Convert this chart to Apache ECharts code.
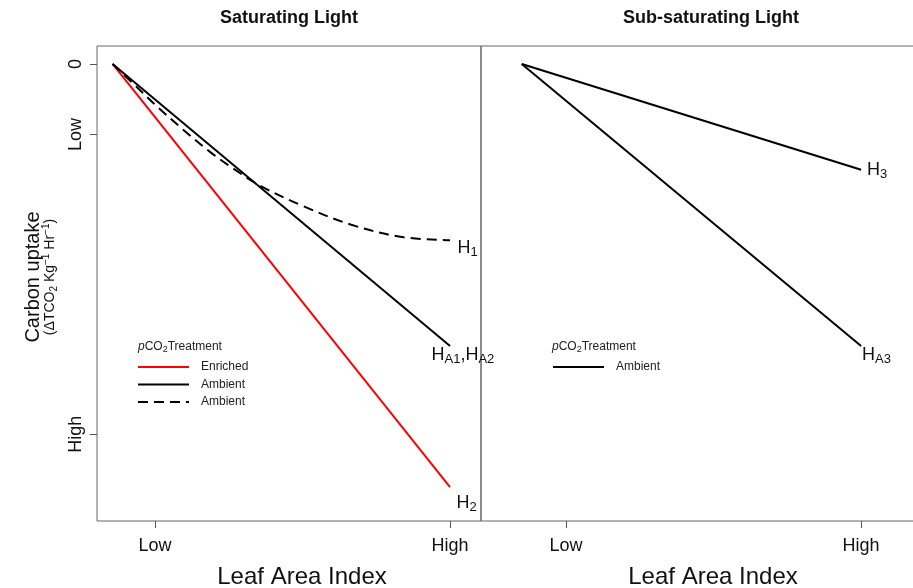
<!DOCTYPE html>
<html>
<head>
<meta charset="utf-8">
<script src="https://cdn.jsdelivr.net/npm/echarts@6/dist/echarts.min.js"></script>
<style>
  html, body { margin: 0; padding: 0; background: #fff; }
  #chart { width: 913px; height: 588px; }
</style>
</head>
<body>
<div id="chart"></div>
<script>
// Leaf area index scale (Low = 1, High = 9)
const laiTicks = [1, 9];
const laiTickLabels = ['Low', 'High'];
// Carbon uptake scale (further below zero = more uptake)
const uptakeTicks = [0, -2, -10.5];
const uptakeTickLabels = ['0', 'Low', 'High'];

// Saturating light
const enrichedX = [-0.15, 9];
const enrichedY = [0, -12];
const ambientX = [-0.15, 9];
const ambientY = [0, -8];
const ambientCurveX = [-0.15, 0.6, 1.05, 1.75, 2.5, 3.1, 3.85, 4.95, 6.3, 7.65, 9];
const ambientCurveY = [0, -0.75, -1.2, -1.85, -2.5, -2.95, -3.45, -4.0, -4.55, -4.9, -5];

// Sub-saturating light
const subH3X = [-0.2, 9];
const subH3Y = [0, -3];
const subHA3X = [-0.2, 9];
const subHA3Y = [0, -8];

const FONT = '"Liberation Sans", Arial, Helvetica, sans-serif';
const INK = '#111';
const zip = (xs, ys) => xs.map((x, i) => [x, ys[i]]);
const legendName = n => n.replace(/ \(.*\)$/, '');

const tickLine = { color: '#555', width: 1 };

function xAxisFor(gridIndex, min, max) {
  return {
    type: 'value', gridIndex, min, max, position: 'bottom',
    axisLine: { show: false, onZero: false },
    splitLine: { show: false },
    axisTick: { show: true, inside: false, length: 7, customValues: laiTicks, lineStyle: tickLine },
    axisLabel: {
      customValues: laiTicks,
      formatter: v => laiTickLabels[laiTicks.indexOf(v)],
      margin: 16, fontSize: 18, color: INK, fontFamily: FONT
    }
  };
}

function lineSeries(name, xi, xs, ys, style) {
  return {
    name, type: 'line', xAxisIndex: xi, yAxisIndex: xi,
    data: zip(xs, ys), symbol: 'none', smooth: style.smooth || false,
    lineStyle: { color: style.color, width: 2, type: style.type || 'solid' },
    itemStyle: { color: style.color },
    z: style.z || 2
  };
}

const chart = echarts.init(document.getElementById('chart'), null, { renderer: 'canvas' });

const legendCommon = {
  orient: 'vertical', padding: 0, itemWidth: 51, itemHeight: 12, itemGap: 5.5,
  selectedMode: false, formatter: legendName,
  itemStyle: { opacity: 0, borderWidth: 0 },
  textStyle: { fontSize: 12, color: '#222', fontFamily: FONT, padding: [0, 0, 0, 7] }
};

const option = {
  animation: false,
  backgroundColor: '#fff',
  grid: [
    { left: 97, top: 46, width: 384, height: 475, show: true, borderColor: '#666', borderWidth: 1, outerBoundsMode: 'none', containLabel: false },
    { left: 481, top: 46, width: 462, height: 475, show: true, borderColor: '#666', borderWidth: 1, outerBoundsMode: 'none', containLabel: false }
  ],
  xAxis: [xAxisFor(0, -0.573, 9.84), xAxisFor(1, -1.305, 11.22)],
  yAxis: [
    {
      type: 'value', gridIndex: 0, min: -12.96, max: 0.51, position: 'left',
      axisLine: { show: false, onZero: false },
      splitLine: { show: false },
      axisTick: { show: true, inside: false, length: 7, customValues: uptakeTicks, lineStyle: tickLine },
      axisLabel: {
        customValues: uptakeTicks,
        formatter: v => uptakeTickLabels[uptakeTicks.indexOf(v)],
        rotate: 90, margin: 12, fontSize: 18, color: INK, fontFamily: FONT
      }
    },
    { type: 'value', gridIndex: 1, min: -12.96, max: 0.51, show: false, axisLine: { onZero: false }, splitLine: { show: false } }
  ],
  legend: [
    Object.assign({ left: 137, top: 361, data: ['Enriched', 'Ambient', 'Ambient (H1)'] }, legendCommon),
    Object.assign({ left: 552, top: 361, data: ['Ambient (H3)'] }, legendCommon)
  ],
  series: [
    lineSeries('Enriched', 0, enrichedX, enrichedY, { color: '#ff0000' }),
    lineSeries('Ambient', 0, ambientX, ambientY, { color: '#000' }),
    lineSeries('Ambient (H1)', 0, ambientCurveX, ambientCurveY, { color: '#000', type: [10, 6], smooth: 0.35, z: 3 }),
    lineSeries('Ambient (H3)', 1, subH3X, subH3Y, { color: '#000' }),
    lineSeries('Ambient (HA3)', 1, subHA3X, subHA3Y, { color: '#000' })
  ]
};
chart.setOption(option);

// Text that sits beside line ends, titles and the axis names
const hRich = {
  h: { fontSize: 18, lineHeight: 22, fontFamily: FONT, fill: INK, color: INK },
  s: { fontSize: 13, lineHeight: 11, fontFamily: FONT, fill: INK, color: INK, verticalAlign: 'bottom' }
};
const endLabels = [
  { grid: 0, at: [enrichedX[1], enrichedY[1]], dx: 6.5, dy: 16, text: '{h|H}{s|2}' },
  { grid: 0, at: [ambientX[1], ambientY[1]], dx: -18.5, dy: 9, text: '{h|H}{s|A1}{h|,H}{s|A2}' },
  { grid: 0, at: [ambientCurveX[ambientCurveX.length - 1], ambientCurveY[ambientCurveY.length - 1]], dx: 7.5, dy: 8, text: '{h|H}{s|1}' },
  { grid: 1, at: [subH3X[1], subH3Y[1]], dx: 6, dy: 0, text: '{h|H}{s|3}' },
  { grid: 1, at: [subHA3X[1], subHA3Y[1]], dx: 1, dy: 9, text: '{h|H}{s|A3}' }
];

const graphics = endLabels.map(l => {
  const p = chart.convertToPixel({ gridIndex: l.grid }, l.at);
  return {
    type: 'text', x: p[0] + l.dx, y: p[1] + l.dy, silent: true,
    style: { text: l.text, rich: hRich, align: 'left', verticalAlign: 'middle', textAlign: 'left', textVerticalAlign: 'middle' }
  };
});

const plain = (x, y, text, font, extra) => Object.assign({
  type: 'text', x, y, silent: true,
  style: { text, font, fill: INK, align: 'center', verticalAlign: 'middle', textAlign: 'center', textVerticalAlign: 'middle' }
}, extra || {});

graphics.push(
  plain(289, 18, 'Saturating Light', 'bold 18px ' + FONT),
  plain(711, 18, 'Sub-saturating Light', 'bold 18px ' + FONT),
  plain(302, 577, 'Leaf Area Index', '24px ' + FONT),
  plain(713, 577, 'Leaf Area Index', '24px ' + FONT),
  plain(33, 277, 'Carbon uptake', '20px ' + FONT, { rotation: Math.PI / 2 }),
  {
    type: 'text', x: 50, y: 277, rotation: Math.PI / 2, silent: true,
    style: {
      text: '{n|(ΔTCO}{sb|2}{n| Kg}{sp|−1}{n| Hr}{sp|−1}{n|)}',
      align: 'center', verticalAlign: 'middle', textAlign: 'center', textVerticalAlign: 'middle',
      rich: {
        n: { fontSize: 14, lineHeight: 18, fontFamily: FONT, fill: INK, color: INK },
        sb: { fontSize: 10, lineHeight: 9, fontFamily: FONT, fill: INK, color: INK, verticalAlign: 'bottom' },
        sp: { fontSize: 10, lineHeight: 9, fontFamily: FONT, fill: INK, color: INK, verticalAlign: 'top' }
      }
    }
  }
);

// Legend headings: italic p, subscript 2
const legendHeadRich = {
  i: { fontSize: 12, lineHeight: 14, fontFamily: FONT, fontStyle: 'italic', fill: '#222', color: '#222' },
  n: { fontSize: 12, lineHeight: 14, fontFamily: FONT, fill: '#222', color: '#222' },
  sb: { fontSize: 9, lineHeight: 8, fontFamily: FONT, fill: '#222', color: '#222', verticalAlign: 'bottom' }
};
[138, 552].forEach(x => graphics.push({
  type: 'text', x, y: 347, silent: true,
  style: {
    text: '{i|p}{n|CO}{sb|2}{n|Treatment}', rich: legendHeadRich,
    align: 'left', verticalAlign: 'middle', textAlign: 'left', textVerticalAlign: 'middle'
  }
}));

chart.setOption({ graphic: graphics });
</script>
</body>
</html>
